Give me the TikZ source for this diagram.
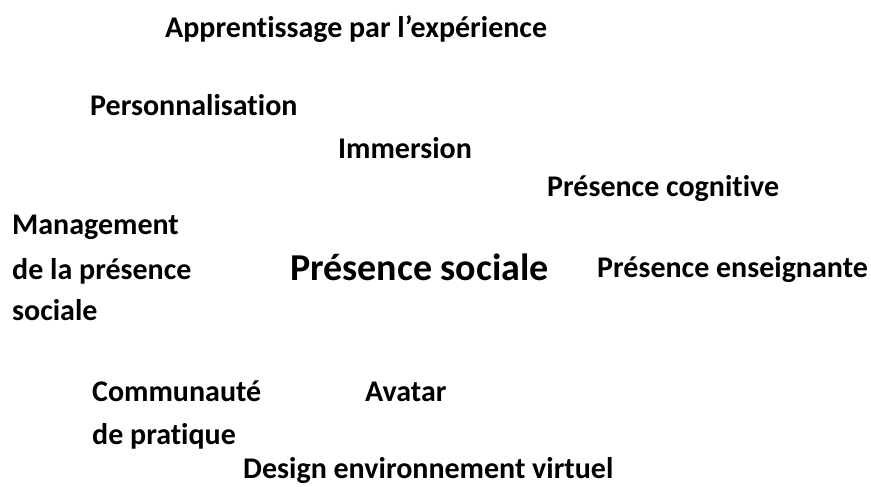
\documentclass[tikz,border=0pt]{standalone}
\usepackage{fontspec}
\setmainfont{Carlito}[Ligatures=NoCommon]
\usetikzlibrary{positioning}
\tikzset{
    word/.style={anchor=base west, inner sep=0pt, font=\bfseries\fontsize{30}{36}\selectfont},
    core/.style={anchor=base west, inner sep=0pt, font=\bfseries\fontsize{38}{46}\selectfont}
}

\begin{document}
\begin{tikzpicture}[x=1pt, y=-1pt]
    \useasboundingbox (0,0) rectangle (871,487);
    \node [word] (experience) at (165,38) {Apprentissage par l’expérience};
    \node [word] (perso) at (90,116) {Personnalisation};
    \node [word] (immersion) at (338,158) {Immersion};
    \node [word] (cognitive) at (547,196) {Présence cognitive};
    \node [word] (management) at (12,234) {Management};
    \node [word] (delapresence) at (12,279) {de la présence};
    \node [core] (sociale) at (290,280) {Présence sociale};
    \node [word] (enseignante) at (597,277) {Présence enseignante};
    \node [word] (socialeb) at (12,320) {sociale};
    \node [word] (communaute) at (92,401) {Communauté};
    \node [word] (avatar) at (365,401) {Avatar};
    \node [word] (pratique) at (92,444) {de pratique};
    \node [word] (design) at (243,478) {Design environnement virtuel};
\end{tikzpicture}
\end{document}
